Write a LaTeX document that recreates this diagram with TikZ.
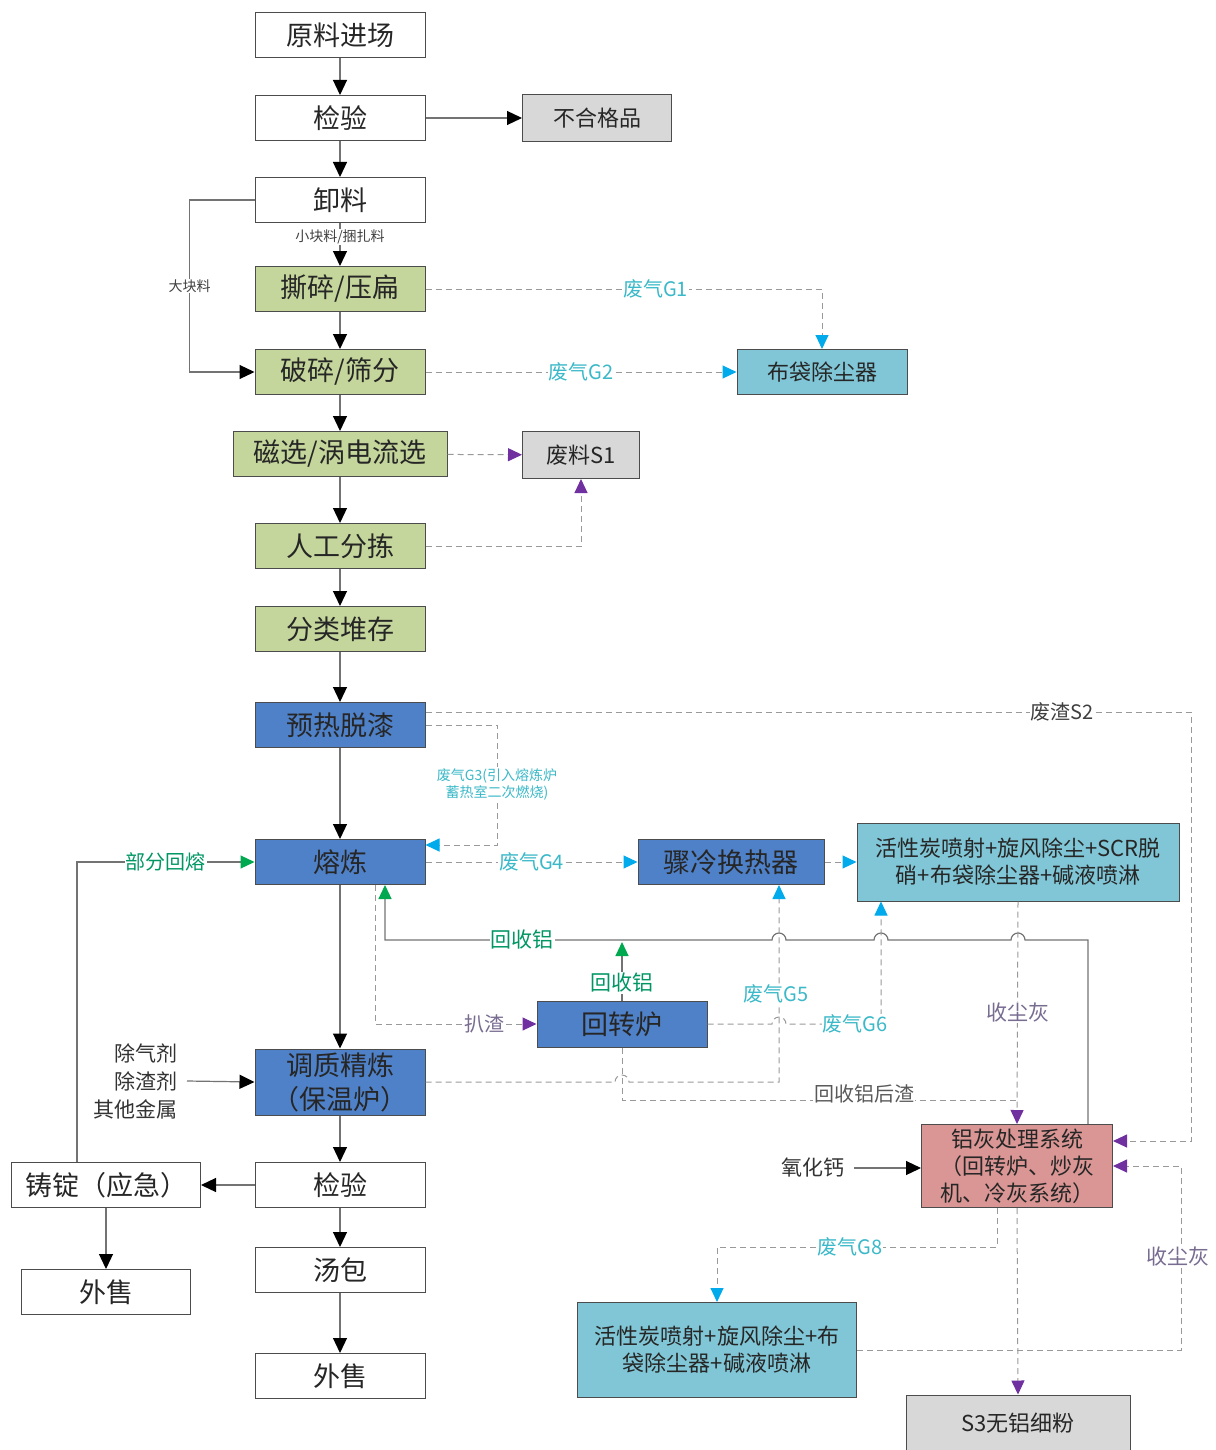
\documentclass[tikz,border=0pt]{standalone}
\usepackage{fontspec}
\newfontfamily\cjk{Noto Sans CJK SC}
\usetikzlibrary{arrows.meta}

\definecolor{boxgreen}{RGB}{196,214,155}
\definecolor{boxblue}{RGB}{79,129,200}
\definecolor{boxteal}{RGB}{128,198,214}
\definecolor{boxgray}{RGB}{216,216,216}
\definecolor{boxred}{RGB}{217,150,148}
\definecolor{tipcyan}{RGB}{0,170,235}
\definecolor{tippurple}{RGB}{112,48,160}
\definecolor{tipgreen}{RGB}{0,168,80}
\definecolor{gastext}{RGB}{60,185,200}
\definecolor{alutext}{RGB}{0,150,100}
\definecolor{dusttext}{RGB}{120,108,145}

\begin{document}
\begin{tikzpicture}[x=1pt,y=-1pt,
  box/.style={draw=black!70, line width=1pt, minimum width=170pt, minimum height=45pt, inner sep=2pt, text=black!85, font=\cjk\fontsize{27}{30}\selectfont},
  boxsm/.style={box, font=\cjk\fontsize{22}{27}\selectfont, align=center},
  solidline/.style={draw=black!55, line width=1.2pt},
  dashline/.style={draw=black!40, line width=1pt, dash pattern=on 6pt off 4pt},
  blktip/.style={-{Triangle[length=15pt,width=14pt,color=black]}},
  cyantip/.style={-{Triangle[length=14pt,width=13pt,color=tipcyan]}},
  purptip/.style={-{Triangle[length=14pt,width=13pt,color=tippurple]}},
  greentip/.style={-{Triangle[length=14pt,width=13pt,color=tipgreen]}},
  lbl/.style={fill=white, inner sep=1pt, font=\cjk\fontsize{20}{22}\selectfont},
  smalllbl/.style={fill=white, inner sep=1pt, font=\cjk\fontsize{14}{17}\selectfont, text=black!75}]
\useasboundingbox (0,0) rectangle (1215,1450);

\node[box] (yuanliao) at (340,35) {原料进场};
\node[box] (jianyan) at (340,118) {检验};
\node[boxsm, fill=boxgray, minimum width=149pt, minimum height=47pt] (buhege) at (597,118) {不合格品};
\node[box] (xieliao) at (340,200) {卸料};
\node[box, fill=boxgreen] (sisui) at (340,289) {撕碎/压扁};
\node[box, fill=boxgreen] (posui) at (340,372) {破碎/筛分};
\node[boxsm, fill=boxteal] (budai) at (822,372) {布袋除尘器};
\node[box, fill=boxgreen, minimum width=214pt] (cixuan) at (340,454) {磁选/涡电流选};
\node[boxsm, fill=boxgray, minimum width=117pt, minimum height=47pt] (feiliao) at (581,455) {废料S1};
\node[box, fill=boxgreen] (rengong) at (340,546) {人工分拣};
\node[box, fill=boxgreen] (fenlei) at (340,629) {分类堆存};
\node[box, fill=boxblue] (yure) at (340,725) {预热脱漆};
\node[box, fill=boxblue] (ronglian) at (340,862) {熔炼};
\node[box, fill=boxblue, minimum width=186pt] (jileng) at (731,862) {骤冷换热器};
\node[boxsm, fill=boxteal, minimum width=322pt, minimum height=78pt] (scr) at (1018,862) {活性炭喷射+旋风除尘+SCR脱\\硝+布袋除尘器+碱液喷淋};
\node[box, fill=boxblue, minimum height=46pt] (huizhuan) at (622,1024) {回转炉};
\node[box, fill=boxblue, minimum height=66pt, align=center, font=\cjk\fontsize{27}{34}\selectfont] (tiaozhi) at (340,1082) {调质精炼\\（保温炉）};
\node[box] (jianyan2) at (340,1185) {检验};
\node[box, minimum width=189pt] (zhuding) at (106,1185) {铸锭（应急）};
\node[box, minimum width=169pt] (waishou1) at (106,1292) {外售};
\node[box] (tangbao) at (340,1270) {汤包};
\node[box] (waishou2) at (340,1376) {外售};
\node[boxsm, fill=boxred, minimum width=191pt, minimum height=83pt, inner sep=0pt] (lvhui) at (1017,1166) {铝灰处理系统\\（回转炉、炒灰\\机、冷灰系统）};
\node[boxsm, fill=boxteal, minimum width=279pt, minimum height=95pt] (huoxing) at (717,1350) {活性炭喷射+旋风除尘+布\\袋除尘器+碱液喷淋};
\node[boxsm, fill=boxgray, minimum width=224pt, minimum height=56pt] (wulv) at (1018,1423) {S3无铝细粉};

\node[anchor=east, align=right, text=black!80, font=\cjk\fontsize{21}{28}\selectfont] (chuqi) at (181,1081) {除气剂\\除渣剂\\其他金属};
\node[anchor=east, text=black!80, font=\cjk\fontsize{21}{26}\selectfont] (yanghua) at (848,1168) {氧化钙};

\draw[solidline, blktip] (yuanliao) -- (jianyan);
\draw[solidline, blktip] (jianyan) -- (buhege);
\draw[solidline, blktip] (jianyan) -- (xieliao);
\draw[solidline, blktip] (xieliao) -- node[smalllbl, pos=0.32] (xiaokuai) {小块料/捆扎料} (sisui);
\draw[solidline, blktip] (sisui) -- (posui);
\draw[solidline, blktip] (xieliao.west) -- ++(-65,0) |- node[smalllbl, pos=0.25] (dakuai) {大块料} (posui.west);
\draw[solidline, blktip] (posui) -- (cixuan);
\draw[solidline, blktip] (cixuan) -- (rengong);
\draw[solidline, blktip] (rengong) -- (fenlei);
\draw[solidline, blktip] (fenlei) -- (yure);
\draw[solidline, blktip] (yure) -- (ronglian);
\draw[solidline, blktip] (ronglian) -- (tiaozhi);
\draw[solidline, blktip] (tiaozhi) -- (jianyan2);
\draw[solidline, blktip] (jianyan2) -- (tangbao);
\draw[solidline, blktip] (tangbao) -- (waishou2);
\draw[solidline, blktip] (jianyan2) -- (zhuding);
\draw[solidline, blktip] (zhuding) -- (waishou1);
\draw[solidline, blktip] (chuqi.east) ++(6,0) -- (tiaozhi.west);
\draw[solidline, blktip] (yanghua.east) ++(6,0) -- (yanghua.east -| lvhui.west);

\draw[solidline, greentip] ([xshift=-29pt]zhuding.north) |- node[lbl, pos=0.75, text=alutext] (bufen) {部分回熔} (ronglian.west);
\draw[solidline, greentip] ([xshift=-25pt]lvhui.north east) -- (1088,940) -- (1025,940)
  arc[start angle=0, end angle=-180, radius=7] -- (888,940)
  arc[start angle=0, end angle=-180, radius=7] -- (786,940)
  arc[start angle=0, end angle=-180, radius=7] -- (385,940) -- ([xshift=45pt]ronglian.south);
\node[lbl, text=alutext, font=\cjk\fontsize{21}{24}\selectfont] (huishou1) at (522,940) {回收铝};
\coordinate (huishoupt) at (622,942);
\draw[solidline, greentip] (huizhuan.north) -- node[lbl, pos=0.3, text=alutext, font=\cjk\fontsize{21}{24}\selectfont] (huishou2) {回收铝} (huishoupt);

\draw[dashline, cyantip] (sisui.east) -| node[lbl, pos=0.29, text=gastext] (g1) {废气G1} (budai.north);
\draw[dashline, cyantip] (posui) -- node[lbl, text=gastext] (g2) {废气G2} (budai);
\draw[dashline, purptip] (cixuan) -- (feiliao);
\draw[dashline, purptip] (rengong.east) -| (feiliao.south);
\draw[dashline, purptip] ([yshift=13pt]yure.east) -- (1191,712) |- ([yshift=25pt]lvhui.east);
\node[lbl, text=black!75] (s2) at (1062,712) {废渣S2};
\draw[dashline, cyantip] (yure.east) -- ++(72,0) |- ([yshift=17pt]ronglian.east);
\node[smalllbl, text=gastext, align=center] (g3) at (497,784) {废气G3(引入熔炼炉\\蓄热室二次燃烧)};
\draw[dashline, cyantip] (ronglian) -- node[lbl, text=gastext] (g4) {废气G4} (jileng);
\draw[dashline, cyantip] (jileng) -- (scr);
\draw[dashline, purptip] ([xshift=35pt]ronglian.south) |- node[lbl, pos=0.84, text=dusttext] (pazha) {扒渣} (huizhuan.west);
\draw[dashline, cyantip] (tiaozhi.east) -- (615,1082) arc[start angle=180, end angle=360, radius=7] -- (779,1082) -- ([xshift=48pt]jileng.south);
\node[lbl, text=gastext] (g5) at (776,994) {废气G5};
\draw[dashline, cyantip] (huizhuan.east) -- (772,1024) arc[start angle=180, end angle=360, radius=7] -- (881,1024) -- ([xshift=-137pt]scr.south);
\node[lbl, text=gastext] (g6) at (855,1024) {废气G6};
\draw[dashline] (huizhuan.south) -- (622,1100) -- (1017,1100);
\node[lbl, text=black!65] (houzha) at (864,1094) {回收铝后渣};
\draw[dashline, purptip] (scr.south) -- node[lbl, text=dusttext, font=\cjk\fontsize{21}{24}\selectfont] (shouchen1) {收尘灰} (lvhui.north);
\draw[dashline, cyantip] ([xshift=-20pt]lvhui.south) -- ++(0,39) -| (huoxing.north);
\node[lbl, text=gastext] (g8) at (850,1247) {废气G8};
\draw[dashline, purptip] (lvhui.south) -- (wulv.north);
\draw[dashline, purptip] (huoxing.east) -- ++(324,0) |- (lvhui.east);
\node[lbl, text=dusttext, font=\cjk\fontsize{21}{24}\selectfont] (shouchen2) at (1178,1256) {收尘灰};
\end{tikzpicture}
\end{document}
